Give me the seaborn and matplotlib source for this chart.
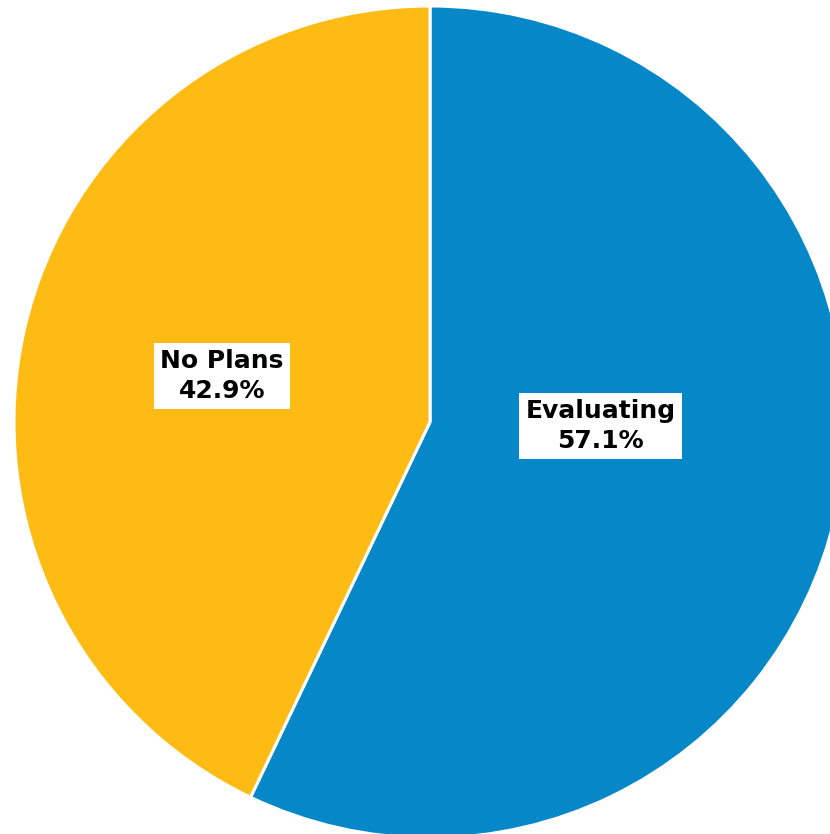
import matplotlib
matplotlib.use("Agg")
import matplotlib.pyplot as plt
import seaborn as sns

categories = ["Evaluating", "No Plans"]
shares = [57.1, 42.9]
colors = ["#0587C8", "#FDBB13"]
# label anchor points in axes-data units (pie radius = 1)
label_x = [0.41, -0.50]
label_y = [-0.01, 0.11]

sns.set_theme(style="white")
plt.rcParams["font.family"] = ["DejaVu Sans"]

W, H = 830, 834
fig = plt.figure(figsize=(W / 100, H / 100), dpi=100)
ax = fig.add_axes([0, 0, 1, 1])

palette = sns.color_palette(colors)
wedges, _ = ax.pie(
    shares,
    colors=palette,
    startangle=90,
    counterclock=False,
    radius=1.0,
    wedgeprops=dict(edgecolor="white", linewidth=2.2),
)

for name, val, x, y in zip(categories, shares, label_x, label_y):
    ax.text(
        x, y, f"{name}\n{val:.1f}%",
        ha="center", va="center", fontsize=18, fontweight="bold",
        color="black", linespacing=1.3,
        bbox=dict(facecolor="white", edgecolor="none", boxstyle="square,pad=0.25"),
    )

# pie centre sits at pixel (430, 422) with a radius of 416 px
cx, cy, r = 430, 422, 416
ax.set_xlim(-cx / r, (W - cx) / r)
ax.set_ylim(-(H - cy) / r, cy / r)
ax.set_aspect("auto")
ax.axis("off")

fig.savefig("out.png", dpi=100, facecolor="white")
